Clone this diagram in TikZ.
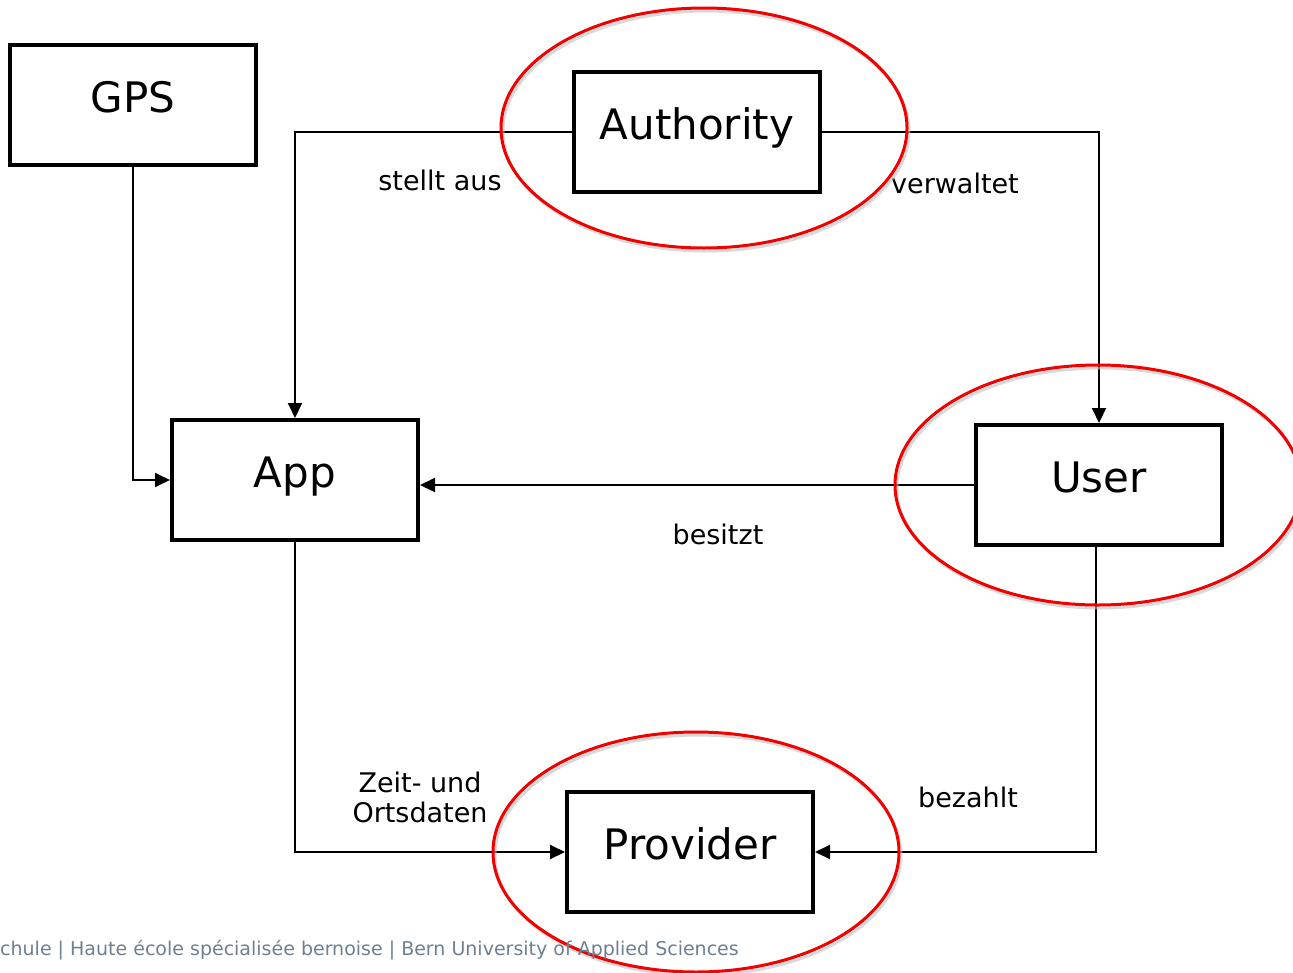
\documentclass[tikz,border=0pt]{standalone}
\usepackage{fontspec}
\setmainfont{DejaVu Sans}
\usepackage{tikz}
\usetikzlibrary{arrows.meta, positioning, calc}
\usepackage{xcolor}
\definecolor{bfhRed}{HTML}{F20000}
\definecolor{bfhGrey}{HTML}{6E7F91}
\tikzstyle{actor} = [%
  rectangle,
  draw=black,
  line width=4pt,
  minimum width=246pt,
  minimum height=120pt,
  align=center,
  text centered,
  text height=30pt,
  text depth=15pt,
  inner sep=0pt,
  font=\fontsize{42}{48}\selectfont
]

\begin{document}
\begin{tikzpicture}[%
  x=1pt, y=1pt,
  flow/.style={%
    -{Triangle[length=15pt,width=14pt]},
    line width=2pt
  },
  ring/.style={draw=bfhRed,line width=3pt},
  ringshadow/.style={draw=black!25,line width=3pt,opacity=0.6},
  elabel/.style={%
    font=\fontsize{27}{30}\selectfont,
    text=black,
    align=center,
    inner sep=0pt
  },
  footer/.style={%
    font=\fontsize{19}{22}\selectfont,
    text=bfhGrey,
    inner sep=0pt,
    anchor=west
  }
]
  \useasboundingbox (0,0) rectangle (1293,-972);

  % Nodes
  \node[actor] (GPS) at (133,-105) {GPS};
  \node[actor,right=314pt of GPS,yshift=-27pt] (Auth) {Authority};
  \node[actor,below=251pt of GPS,xshift=162pt] (App) {App};
  \node[actor,right=554pt of App,yshift=-5pt] (User) {User};
  \node[actor,below=248pt of App,xshift=395pt] (Prov) {Provider};

  % Edge labels
  \node[elabel] (lAus) at (440,-180) {stellt aus};
  \node[elabel] (lVerw) at (955,-183) {verwaltet};
  \node[elabel] (lBes) at (718,-534) {besitzt};
  \node[elabel] (lZeit) at (420,-797) {Zeit- und\\Ortsdaten};
  \node[elabel] (lBez) at (968,-797) {bezahlt};

  % Edges
  \draw[flow] (GPS.south) |- (App.west);
  \draw[flow] (Auth.west) -| (App.north);
  \draw[flow] (Auth.east) -| (User.north);
  \draw[flow] (User.west) -- (User.west -| App.east);
  \draw[flow] (App.south) |- (Prov.west);
  \draw[flow] ([xshift=-3pt]User.south) |- (Prov.east);

  % Red rings
  \foreach \who/\dx/\dy in {Auth/7/4, User/-1/0, Prov/6/0} {
    \draw[ringshadow] ($(\who.center)+(\dx+2,\dy-3)$) ellipse [x radius=203, y radius=120];
    \draw[ring] ($(\who.center)+(\dx,\dy)$) ellipse [x radius=203, y radius=120];
  }

  % Footer
  \node[footer] (foot) at (0,-950) {chule | Haute école spécialisée bernoise | Bern University of Applied Sciences};

\end{tikzpicture}
\end{document}
